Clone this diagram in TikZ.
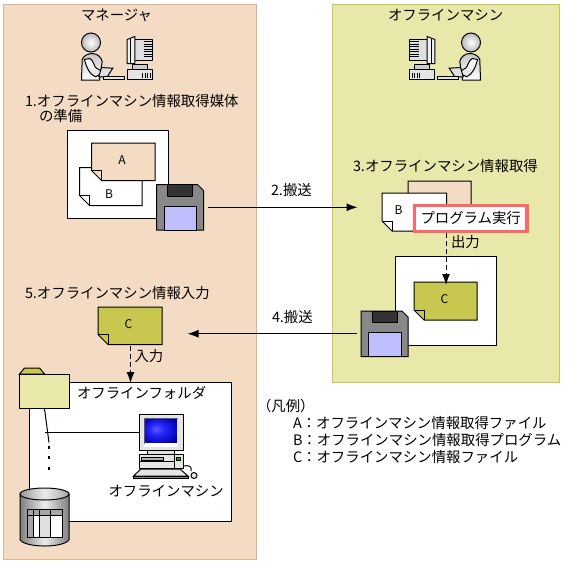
\documentclass[tikz,border=0pt]{standalone}
\usepackage{fontspec}
\setmainfont{Noto Sans CJK JP}
\usetikzlibrary{arrows.meta}
\definecolor{peach}{HTML}{F4DCC4}
\definecolor{peachline}{HTML}{DDB48F}
\definecolor{pale}{HTML}{E8E8AA}
\definecolor{paleline}{HTML}{C8C850}
\definecolor{olive}{HTML}{C8C850}
\definecolor{redline}{HTML}{FF6666}
\definecolor{disklabel}{HTML}{BFBFFF}
\definecolor{diskbody}{HTML}{888888}
\pgfdeclareradialshading{crtglow}{\pgfpoint{-9bp}{5bp}}{
	color(0bp)=(blue!60!white!90!blue);
	color(12bp)=(blue!85!white);
	color(32bp)=(blue!65!black);
	color(50bp)=(blue!35!black)
}
\tikzset{
	person/.pic={
		\draw[inner color=white, outer color=gray!55] (9.5,10) circle (9.5);
		\draw[top color=gray!45, bottom color=white] (0,47.5) -- (0.7,27) .. controls (2,23) and (7,21) .. (10.7,21) .. controls (16,21) and (20,25) .. (20.7,29) -- (18,47.5) -- cycle;
		\draw[top color=white, bottom color=gray!25] (3,27) .. controls (5,35) and (8,42) .. (14,44.3) -- (22,40) -- (14,35) .. controls (12,31) and (11,27) .. (8,26) -- cycle;
		\draw[fill=gray!25] (20,35) -- (31.3,35.7) -- (25.7,44.3) -- (17.3,44.3) -- cycle;
		\draw[fill=gray!20] (22.3,44.3) rectangle (43,47.3);
	},
	deskpc/.pic={
		\draw[fill=gray!25] (8.3,2.7) rectangle (26,24);
		\foreach \ventY in {5,7.5,...,22}
			\draw[line width=0.7pt] (17,\ventY) -- (26,\ventY);
		\draw[fill=gray!12] (0.7,3) -- (8.3,0) -- (8.3,27) -- (0.7,27) -- cycle;
		\draw (4,2) -- (4,27);
		\draw[fill=gray!40] (5.7,27.7) rectangle (20.7,32.7);
		\draw[fill=gray!20] (1.3,32.7) rectangle (26.3,43.3);
		\foreach \ventX in {16,18.5,...,24}
			\draw[line width=0.7pt] (\ventX,36) -- (\ventX,41);
	},
	floppy/.pic={
		\draw[fill=diskbody] (0,0) -- (41,0) -- (47,6) -- (47,45.5) -- (0,45.5) -- cycle;
		\draw[fill=black!80] (11,0) rectangle (36,11.5);
		\draw[fill=disklabel] (7.5,21.5) rectangle (40,45.5);
		\node[inner sep=0pt, minimum width=47pt, minimum height=45.5pt] (-box) at (23.5,22.75) {};
	},
	crtpc/.pic={
		\draw[fill=gray!25] (8.5,36) rectangle (35.5,41);
		\draw[fill=gray!20] (0,0) rectangle (44.5,36);
		\fill[white] (5,4) rectangle (39,33);
		\fill[gray!70!black] (5,4) -- (39,4) -- (38,5.5) -- (6.5,5.5) -- (6.5,29) -- (5,30) -- cycle;
		\shade[shading=crtglow] (6.5,5.5) rectangle (38,28.5);
		\draw[fill=gray!20] (0,40) rectangle (44.5,54);
		\draw[fill=gray!60] (2.5,43) rectangle (24,46);
		\draw (35,40) -- (35,54);
		\draw (0,47.5) -- (35,47.5);
		\draw[fill=green!70!black] (37.5,43) rectangle (41.5,46);
		\draw[fill=gray!20] (2,55) -- (41,55) -- (49,62) -- (-5.5,62) -- cycle;
		\draw[fill=gray] (-5.5,62) rectangle (49,64.5);
		\draw (44.5,52) .. controls (50,51) and (53,52) .. (52,57);
		\draw[fill=gray!20] (55,61.5) circle (3);
	},
	dbcyl/.pic={
		\draw[left color=gray, right color=gray, middle color=gray!15] (0,6) -- (0,52) .. controls (6,60) and (43,60) .. (49,52) -- (49,6) -- cycle;
		\draw[left color=gray!80, right color=gray!70, middle color=gray!15] (24.5,6) ellipse [x radius=24.5, y radius=6];
		\draw[fill=white] (7,21) rectangle (42.5,49);
		\fill[gray!70] (7,21) rectangle (42.5,27.5);
		\fill[gray!70] (7,21) rectangle (13,49);
		\fill[gray!25] (19,27.5) rectangle (30.5,49);
		\draw (7,21) rectangle (42.5,49);
		\draw (7,27.5) -- (42.5,27.5);
		\foreach \colX in {13,19,30.5}
			\draw (\colX,21) -- (\colX,49);
	}
}
\newcommand{\docsheet}[6]{
	\draw[fill=#6] (#2,#3) -- ++(#4,0) -- ++(0,#5) -- ++(10-#4,0) -- ++(-10,-10) -- cycle;
	\draw (#2,#3+#5-10) -- ++(10,0) -- ++(0,10);
	\node[inner sep=0pt, minimum width=#4pt, minimum height=#5pt, anchor=north west] (#1) at (#2,#3) {};
}
\begin{document}
\begin{tikzpicture}[
		x=1pt,
		y=-1pt,
		line width=1pt,
		every node/.style={font=\fontsize{14.4}{16}\selectfont, inner sep=0pt},
		txt/.style={anchor=base west},
		doclabel/.style={font=\fontsize{12}{14}\selectfont},
		panel/.style={draw, anchor=north west},
		whitebox/.style={draw, fill=white, anchor=north west},
		arrow/.style={-{Latex[length=11pt,width=8pt]}},
		dasharrow/.style={dashed, dash pattern=on 5pt off 3pt, -{Latex[length=11pt,width=8pt]}}
	]
	\useasboundingbox (0.5,0.5) rectangle (588.5,563.5);

	\node[panel, fill=peach, draw=peachline, minimum width=253pt, minimum height=554.5pt] (manager) at (3.5,4.5) {};
	\node[panel, fill=pale, draw=paleline, minimum width=227pt, minimum height=377.5pt] (offline) at (332.5,4.5) {};
	\node[txt] (managertitle) at (81,21) {マネージャ};
	\node[txt] (offlinetitle) at (388,21) {オフラインマシン};

	\pic at (82,33) {person};
	\pic at (127,37) {deskpc};
	\pic[xscale=-1] at (481,33) {person};
	\pic[xscale=-1] at (436,37) {deskpc};

	\node[txt] (stepone) at (25,107) {1.オフラインマシン情報取得媒体};
	\node[txt] (steponeb) at (39,122) {の準備};
	\node[whitebox, minimum width=100.5pt, minimum height=87.5pt] (mediaA) at (67.5,130.5) {};
	\docsheet{docBone}{80}{168}{62.5}{38}{white}
	\docsheet{docA}{92}{143.5}{63.5}{37.5}{peach}
	\node[doclabel] (labA) at (122.5,161) {A};
	\node[doclabel] (labBone) at (109.5,194.5) {B};
	\pic (flopA) at (157,185) {floppy};

	\node[txt] (steptwo) at (271,196) {2.搬送};
	\node[txt] (stepthree) at (353,171.5) {3.オフラインマシン情報取得};
	\docsheet{docAback}{408.5}{181.5}{63}{38}{peach}
	\docsheet{docBtwo}{382.5}{193.5}{64.5}{38}{white}
	\node[doclabel] (labBtwo) at (399,211) {B};
	\node[draw=redline, line width=3.5pt, fill=white, minimum width=112.7pt, minimum height=26pt] (runbox) at (471.2,218.8) {プログラム実行};

	\node[txt] (output) at (451,248) {出力};
	\node[whitebox, minimum width=101pt, minimum height=89pt] (mediaB) at (395.5,256.5) {};
	\docsheet{docCone}{414.5}{282.5}{63}{38}{olive}
	\node[doclabel] (labCone) at (445,299.5) {C};
	\pic (flopB) at (361.5,311.5) {floppy};

	\node[txt] (stepfour) at (272,323) {4.搬送};
	\node[txt] (stepfive) at (25,299) {5.オフラインマシン情報入力};
	\docsheet{docCtwo}{98.5}{307.5}{64}{37.5}{olive}
	\node[doclabel] (labCtwo) at (129,324.5) {C};
	\node[txt] (input) at (134.5,361.5) {入力};

	\node[whitebox, minimum width=202pt, minimum height=138.5pt] (folderbox) at (29.5,382.5) {};
	\draw[fill=olive] (20,374.5) -- (25,368.5) -- (40,368.5) -- (45,374.5) -- cycle;
	\node[panel, fill=pale, minimum width=50.4pt, minimum height=34pt] (folder) at (19.3,374.4) {};
	\node[txt] (foldertitle) at (77,399) {オフラインフォルダ};
	\node[inner sep=0pt, minimum width=44.5pt, minimum height=36pt, anchor=north west] (monitor) at (139.5,414.5) {};
	\pic at (139.5,414.5) {crtpc};
	\node[txt] (pclabel) at (108.5,497) {オフラインマシン};
	\coordinate (treeend) at (49.5,443);
	\foreach \dotname/\dotY in {dotA/448,dotB/458,dotC/469}
		\node[fill, minimum size=2.5pt] (\dotname) at (49.5,\dotY) {};
	\pic at (20.5,488.5) {dbcyl};

	\draw[arrow, shorten <=3.5pt, shorten >=24.5pt] (flopA-box.east) -- (flopA-box.east -| docBtwo.west);
	\draw[arrow, shorten <=3.5pt, shorten >=24.5pt] (flopB-box.west) -- (flopB-box.west -| docCtwo.east);
	\draw[dasharrow, shorten >=-3pt] (docCone.north |- runbox.south) -- (docCone.north);
	\draw[dasharrow, shorten >=-1pt] (docCtwo.south) -- (docCtwo.south |- folderbox.north);
	\draw (folder.south) -- (treeend);
	\draw (monitor.west) -- (monitor.west -| folder.south);

	\node[txt] (legend) at (257,412) {（凡例）};
	\node[txt] (legendA) at (293,429) {A：オフラインマシン情報取得ファイル};
	\node[txt] (legendB) at (293,446) {B：オフラインマシン情報取得プログラム};
	\node[txt] (legendC) at (293,463) {C：オフラインマシン情報ファイル};
\end{tikzpicture}
\end{document}
